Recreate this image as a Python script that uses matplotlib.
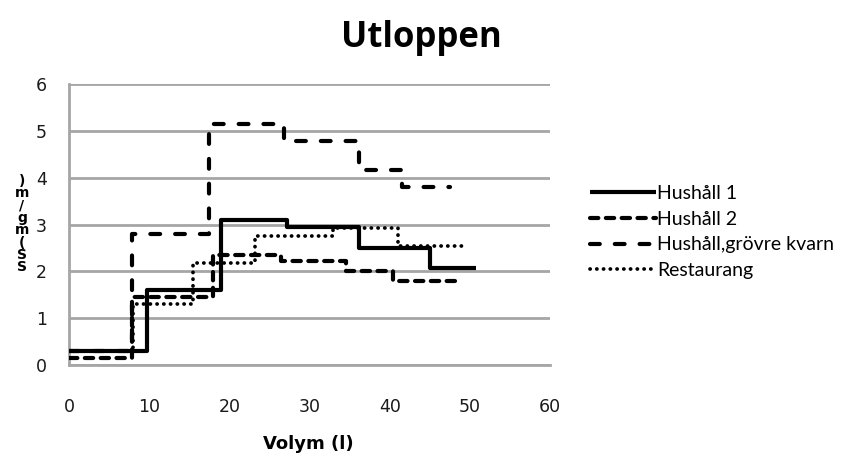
import matplotlib
matplotlib.use("Agg")
import matplotlib.pyplot as plt

# step edges (x) and levels (y); last level repeated for end point
h1_x = [0, 9.7, 18.9, 27.2, 36.2, 45.0, 50.8]
h1_y = [0.30, 1.60, 3.10, 2.95, 2.50, 2.07, 2.07]

h2_x = [0, 7.9, 18.0, 26.5, 34.6, 40.4, 48.8]
h2_y = [0.15, 1.46, 2.35, 2.22, 2.00, 1.80, 1.80]

hg_x = [0, 7.9, 17.5, 26.8, 36.2, 41.6, 47.5]
hg_y = [0.30, 2.79, 5.15, 4.78, 4.17, 3.80, 3.80]

r_x = [0, 8.0, 15.5, 23.2, 32.9, 41.0, 49.0]
r_y = [0.30, 1.30, 2.18, 2.76, 2.92, 2.54, 2.54]

labels = ["Hushåll 1", "Hushåll 2", "Hushåll,grövre kvarn", "Restaurang"]
title = "Utloppen"
xlabel = "Volym (l)"
ylabel_chars = [")", "m", "/", "g", "m", "(", "S", "S"]
xticks = [0, 10, 20, 30, 40, 50, 60]
yticks = [0, 1, 2, 3, 4, 5, 6]

fig = plt.figure(figsize=(8.42, 4.57), dpi=100)
ax = fig.add_axes([69/842, 1-365/457, (550-69)/842, (365-84)/457])

ax.plot(h1_x, h1_y, drawstyle="steps-post", color="black", lw=3.0,
        solid_capstyle="butt", label=labels[0], zorder=3)
ax.plot(h2_x, h2_y, drawstyle="steps-post", color="black", lw=3.0,
        linestyle=(0, (2.0, 1.8)), dash_capstyle="round", label=labels[1], zorder=3)
ax.plot(hg_x, hg_y, drawstyle="steps-post", color="black", lw=3.0,
        linestyle=(0, (2.35, 3.6)), dash_capstyle="round", label=labels[2], zorder=3)
ax.plot(r_x, r_y, drawstyle="steps-post", color="black", lw=2.7,
        linestyle=(0, (0.05, 1.75)), dash_capstyle="round", label=labels[3], zorder=3)

ax.set_xlim(0, 60)
ax.set_ylim(0, 6)
ax.set_xticks(xticks)
ax.set_yticks(yticks)
ax.tick_params(axis="x", length=0, labelsize=12.5, pad=24)
ax.tick_params(axis="y", length=0, labelsize=12.5, pad=16)
for lab in ax.get_xticklabels() + ax.get_yticklabels():
    lab.set_fontfamily("DejaVu Sans")
    lab.set_color("#1a1a1a")
ax.yaxis.grid(True, color="#a6a6a6", lw=2)
ax.set_axisbelow(True)
for s in ["top", "right"]:
    ax.spines[s].set_visible(False)
ax.spines["left"].set_color("#a6a6a6")
ax.spines["left"].set_linewidth(2)
ax.spines["bottom"].set_color("#a6a6a6")
ax.spines["bottom"].set_linewidth(2)

fig.text(421/842, 1-38/457, title, ha="center", va="center",
         fontsize=25, fontweight="bold", family="Open Sans")
fig.text(308/842, 1-444/457, xlabel, ha="center", va="center",
         fontsize=13, fontweight="bold", family="DejaVu Sans")

fig.text(22/842, 1-224/457, "\n".join(ylabel_chars), ha="center", va="center",
         fontsize=10, fontweight="bold", family="DejaVu Sans", linespacing=0.85)

leg = ax.legend(loc="center left", bbox_to_anchor=(582/842, 1-232/457),
                bbox_transform=fig.transFigure, frameon=False,
                prop={"family": "Lato", "size": 14}, handlelength=3.4,
                handletextpad=0.05, labelspacing=0.45, borderaxespad=0)

fig.savefig("out.png", dpi=100)
